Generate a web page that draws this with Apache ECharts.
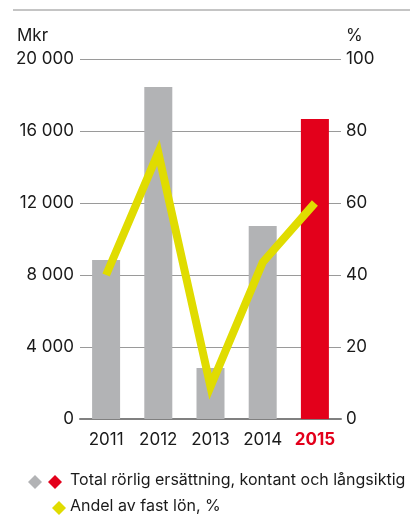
<!DOCTYPE html>
<html>
<head>
<meta charset="utf-8">
<script src="https://cdn.jsdelivr.net/npm/echarts@6/dist/echarts.min.js"></script>
<style>
  html, body { margin: 0; padding: 0; background: #fff; }
  #chart { width: 410px; height: 518px; }
</style>
</head>
<body>
<div id="chart"></div>
<script>
const years = ["2011", "2012", "2013", "2014", "2015"];
const rorligErsattning = [8830, 18450, 2830, 10720, 16670]; // Mkr
const andelFastLon = [40, 74, 9, 43.5, 60]; // %
const leftTicks = { min: 0, max: 20000, interval: 4000 };
const rightTicks = { min: 0, max: 100, interval: 20 };

const FONT = "Inter";
const GRAY = "#b2b3b5";
const RED = "#e3001b";
const YELLOW = "#e0dc00";
const TEXT = "#1a1a1a";

const chart = echarts.init(document.getElementById("chart"));

const diamond = (cx, cy, r, color) => ({
  type: "polygon",
  shape: { points: [[cx, cy - r], [cx + r, cy], [cx, cy + r], [cx - r, cy]] },
  style: { fill: color },
});

const option = {
  animation: false,
  grid: { left: 80, right: 69, top: 59, bottom: 99 },
  xAxis: {
    type: "category",
    data: years,
    axisTick: { show: false },
    axisLine: { lineStyle: { color: "#808080", width: 2 } },
    axisLabel: {
      interval: 0,
      margin: 12,
      fontFamily: FONT,
      fontSize: 17,
      color: TEXT,
      formatter: (v) => (v === "2015" ? "{hl|" + v + "}" : v),
      rich: {
        hl: { fontFamily: FONT, fontSize: 17, fontWeight: "bold", color: RED },
      },
    },
  },
  yAxis: [
    {
      type: "value",
      ...leftTicks,
      axisLine: { show: false },
      axisTick: { show: false },
      splitLine: { lineStyle: { color: "#9a9a9a", width: 1 } },
      axisLabel: {
        margin: 6,
        fontFamily: FONT,
        fontSize: 17,
        color: TEXT,
        formatter: (v) => String(v).replace(/\B(?=(\d{3})+(?!\d))/g, " "),
      },
    },
    {
      type: "value",
      ...rightTicks,
      axisLine: { show: false },
      axisTick: { show: false },
      splitLine: { show: false },
      axisLabel: { margin: 5, fontFamily: FONT, fontSize: 17, color: TEXT },
    },
  ],
  series: [
    {
      name: "Total rörlig ersättning, kontant och långsiktig",
      type: "bar",
      barWidth: 28,
      data: rorligErsattning.map((v, i) => ({
        value: v,
        itemStyle: { color: years[i] === "2015" ? RED : GRAY },
      })),
    },
    {
      name: "Andel av fast lön, %",
      type: "line",
      yAxisIndex: 1,
      data: andelFastLon,
      symbol: "none",
      lineStyle: { color: YELLOW, width: 8, join: "miter", cap: "butt", miterLimit: 20 },
    },
  ],
  graphic: [
    {
      type: "line",
      shape: { x1: 13, y1: 10, x2: 410, y2: 10 },
      style: { stroke: "#8a8a8a", lineWidth: 1 },
    },
    {
      type: "text",
      left: 17, top: 27,
      style: { text: "Mkr", font: "17px " + FONT, fill: TEXT },
    },
    {
      type: "text",
      left: 346, top: 27,
      style: { text: "%", font: "17px " + FONT, fill: TEXT },
    },
    diamond(35, 482, 7, GRAY),
    diamond(55, 482, 7, RED),
    {
      type: "text",
      left: 70, top: 472,
      style: { text: "Total rörlig ersättning, kontant och långsiktig", font: "16px " + FONT, fill: TEXT },
    },
    diamond(59, 508, 7, YELLOW),
    {
      type: "text",
      left: 70, top: 498,
      style: { text: "Andel av fast lön, %", font: "16px " + FONT, fill: TEXT },
    },
  ],
};

chart.setOption(option);
</script>
</body>
</html>
